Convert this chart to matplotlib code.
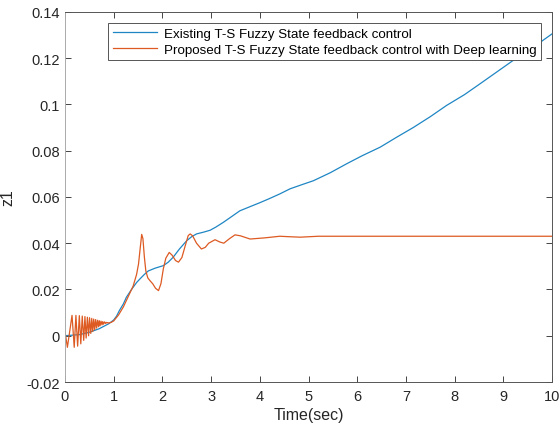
import numpy as np
import matplotlib
matplotlib.use("Agg")
import matplotlib.pyplot as plt

plt.rcParams['font.family'] = ['Liberation Sans', 'DejaVu Sans']

# existing controller response
t_exist = [0.0, 0.3, 0.5, 0.7, 0.9, 1.0, 1.06, 1.12, 1.2, 1.26, 1.36, 1.47, 1.55, 1.63,
           1.71, 1.85, 2.02, 2.12, 2.22, 2.35, 2.5, 2.6, 2.7, 2.85, 2.98, 3.1, 3.25,
           3.4, 3.59, 3.8, 4.0, 4.2, 4.41, 4.62, 4.85, 5.1, 5.45, 5.78, 6.1, 6.47,
           6.8, 7.15, 7.5, 7.83, 8.2, 8.52, 8.85, 9.2, 9.6, 10.0]
z_exist = [0.0, 0.0005, 0.0015, 0.003, 0.0052, 0.0068, 0.0085, 0.011, 0.0138, 0.0166,
           0.0198, 0.023, 0.0248, 0.0265, 0.028, 0.0292, 0.0303, 0.0318, 0.0339,
           0.0375, 0.0411, 0.0428, 0.044, 0.0448, 0.0456, 0.047, 0.049, 0.0512,
           0.054, 0.0558, 0.0575, 0.0593, 0.0613, 0.0635, 0.0652, 0.067, 0.0705,
           0.0743, 0.0778, 0.0815, 0.0857, 0.090, 0.0947, 0.0995, 0.1042, 0.1089,
           0.1138, 0.119, 0.1245, 0.1305]

# proposed controller with deep learning (peaks and troughs)
t_prop = [0.0, 0.05, 0.145, 0.19, 0.225, 0.26, 0.295, 0.325, 0.355, 0.385, 0.41,
          0.435, 0.46, 0.485, 0.505, 0.53, 0.55, 0.57, 0.59, 0.61, 0.63, 0.65,
          0.67, 0.69, 0.705, 0.72, 0.74, 0.76, 0.775, 0.79, 0.81, 0.83, 0.845,
          0.86, 0.875, 0.9, 0.95, 1.0, 1.1, 1.2, 1.3, 1.4, 1.47, 1.51, 1.545,
          1.575, 1.60, 1.63, 1.66, 1.7, 1.745, 1.8, 1.86, 1.92, 1.97, 2.02, 2.07,
          2.14, 2.2, 2.27, 2.33, 2.4, 2.47, 2.53, 2.57, 2.62, 2.7, 2.8, 2.88,
          2.95, 3.08, 3.18, 3.26, 3.38, 3.49, 3.6, 3.8, 4.1, 4.41, 4.6, 4.83,
          5.2, 6.0, 7.0, 8.0, 9.0, 10.0]
z_prop = [0.002, -0.005, 0.0088, -0.005, 0.0088, -0.0045, 0.0087, -0.0035, 0.0085,
          -0.002, 0.0083, -0.001, 0.008, 0.0, 0.0078, 0.001, 0.0075, 0.0018,
          0.0072, 0.0026, 0.007, 0.0033, 0.0067, 0.0039, 0.0065, 0.0043, 0.0063,
          0.0047, 0.0061, 0.005, 0.006, 0.0053, 0.0058, 0.0055, 0.0057, 0.0055,
          0.0058, 0.0064, 0.009, 0.0125, 0.017, 0.0215, 0.0265, 0.031, 0.038,
          0.0438, 0.042, 0.034, 0.028, 0.025, 0.0238, 0.0225, 0.0205, 0.0195,
          0.0225, 0.029, 0.0335, 0.036, 0.0348, 0.0325, 0.0318, 0.0338, 0.039,
          0.0433, 0.044, 0.0432, 0.040, 0.0375, 0.0382, 0.040, 0.0415, 0.0405,
          0.040, 0.042, 0.0436, 0.0432, 0.0418, 0.0423, 0.043, 0.0428, 0.0426,
          0.043, 0.043, 0.043, 0.043, 0.043, 0.043]

labels = ["Existing T-S Fuzzy State feedback control",
          "Proposed T-S Fuzzy State feedback control with Deep learning"]

fig = plt.figure(figsize=(5.6, 4.27), dpi=100)
ax = fig.add_axes([0.116, 0.103, 0.870, 0.867])

ax.plot(t_exist, z_exist, color='#1f86c4', lw=0.9, label=labels[0])
ax.plot(t_prop, z_prop, color='#dd5a22', lw=0.9, label=labels[1])

ax.set_xlim(0, 10)
ax.set_ylim(-0.02, 0.14)
ax.set_xticks(np.arange(0, 11, 1))
ax.set_yticks(np.arange(-0.02, 0.141, 0.02))
ax.set_yticklabels(['-0.02', '0', '0.02', '0.04', '0.06', '0.08', '0.1', '0.12', '0.14'])
ax.tick_params(direction='in', top=True, right=True, length=4, width=0.6,
               labelsize=10.5, colors='#262626')
ax.tick_params(axis='x', pad=5)
for s in ax.spines.values():
    s.set_color('#555555')
    s.set_linewidth(0.7)
ax.spines['left'].set_color('#aaaaaa')

ax.set_xlabel("Time(sec)", fontsize=11.5, color='#262626', labelpad=3)
ax.set_ylabel("z1", fontsize=11.5, color='#262626', labelpad=8)

leg = ax.legend(loc='upper right', bbox_to_anchor=(0.977, 0.97), fontsize=9.6,
                frameon=True, fancybox=False, framealpha=1, edgecolor='#555555',
                handlelength=3.3, borderpad=0.35, labelspacing=0.25,
                handletextpad=0.5, borderaxespad=0)
leg.get_frame().set_linewidth(0.7)

fig.savefig("out.png", dpi=100)
